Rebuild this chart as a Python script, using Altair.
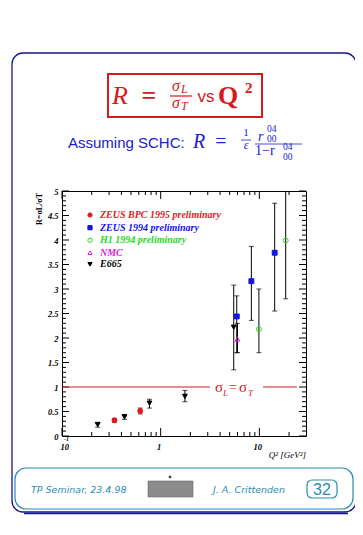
import altair as alt
import pandas as pd

# ---------------- data ----------------
zeus_bpc_q2 = [0.34, 0.62]
zeus_bpc_R = [0.32, 0.51]
zeus_bpc_lo = [0.28, 0.45]
zeus_bpc_hi = [0.36, 0.57]

zeus94_q2 = [5.9, 8.3, 14.3]
zeus94_R = [2.44, 3.16, 3.74]
zeus94_lo = [1.70, 2.36, 2.55]
zeus94_hi = [2.86, 3.87, 4.75]

h1_q2 = [9.9, 18.5]
h1_R = [2.18, 3.99]
h1_lo = [1.70, 2.80]
h1_hi = [3.00, 5.00]

nmc_q2 = [6.0]
nmc_R = [1.98]
nmc_lo = [1.70]
nmc_hi = [2.30]

e665_q2 = [0.23, 0.43, 0.77, 1.76, 5.5]
e665_R = [0.23, 0.39, 0.67, 0.81, 2.22]
e665_lo = [0.18, 0.34, 0.57, 0.70, 1.35]
e665_hi = [0.28, 0.44, 0.75, 0.93, 3.08]

series_names = ["ZEUS BPC 1995 preliminary", "ZEUS 1994 preliminary",
                "H1 1994 preliminary", "NMC", "E665"]
series_colors = ["#e8141e", "#1414e6", "#22dd22", "#dd22dd", "#000000"]
series_fills = ["#e8141e", "#1414e6", "transparent", "transparent", "#000000"]
series_shapes = ["circle", "square", "circle", "triangle-up", "triangle-down"]

# reference line R = 1 (two pieces around its label)
ref_from = [0.1, 10.9]
ref_to = [3.16, 24.0]
ref_R = [1.0, 1.0]

y_major = [0, 0.5, 1, 1.5, 2, 2.5, 3, 3.5, 4, 4.5, 5]
y_minor = [0.1, 0.2, 0.3, 0.4, 0.6, 0.7, 0.8, 0.9, 1.1, 1.2, 1.3, 1.4, 1.6, 1.7, 1.8, 1.9,
           2.1, 2.2, 2.3, 2.4, 2.6, 2.7, 2.8, 2.9, 3.1, 3.2, 3.3, 3.4, 3.6, 3.7, 3.8, 3.9,
           4.1, 4.2, 4.3, 4.4, 4.6, 4.7, 4.8, 4.9]
x_major = [0.1, 1, 10]
x_minor = [0.2, 0.3, 0.4, 0.5, 0.6, 0.7, 0.8, 0.9, 2, 3, 4, 5, 6, 7, 8, 9, 20]

# ---------------- tables ----------------
rows = []
for name, q, r, lo, hi in [
    (series_names[0], zeus_bpc_q2, zeus_bpc_R, zeus_bpc_lo, zeus_bpc_hi),
    (series_names[1], zeus94_q2, zeus94_R, zeus94_lo, zeus94_hi),
    (series_names[2], h1_q2, h1_R, h1_lo, h1_hi),
    (series_names[3], nmc_q2, nmc_R, nmc_lo, nmc_hi),
    (series_names[4], e665_q2, e665_R, e665_lo, e665_hi),
]:
    for a, b, c, d in zip(q, r, lo, hi):
        rows.append({"series": name, "q2": a, "R": b, "lo": c, "hi": d})
df = pd.DataFrame(rows)
ref_df = pd.DataFrame({"a": ref_from, "b": ref_to, "R": ref_R})
one = pd.DataFrame({"k": [0]})

W, H = 244, 245
SERIF = "Liberation Serif"
SANS = "Liberation Sans"

XS = alt.Scale(type="log", domain=[0.1, 29.7], nice=False)
YS = alt.Scale(domain=[0, 5], nice=False, zero=False)
XA = alt.Axis(values=x_major, grid=False, ticks=False, domain=False, title=None,
              labelExpr="datum.value < 0.5 ? '10' : (datum.value < 5 ? '1' : '10')",
              labelFont=SERIF, labelFontStyle="italic", labelFontWeight="bold",
              labelFontSize=8.5, labelPadding=6, labelOffset=-2, labelColor="black")
YA = alt.Axis(values=y_major, grid=False, ticks=False, domain=False, title=None,
              format="~g", labelFont=SERIF, labelFontStyle="italic",
              labelFontWeight="bold", labelFontSize=8.5, labelPadding=4,
              labelColor="black")


def X(field):
    return alt.X(field, type="quantitative", scale=XS, axis=XA)


def Y(field):
    return alt.Y(field, type="quantitative", scale=YS, axis=YA)


def txt(s, x, y, size, color, font=SERIF, style="normal", weight="normal",
        align="left", baseline="alphabetic", angle=0):
    return alt.Chart(one).mark_text(
        text=s, fontSize=size, color=color, font=font, fontStyle=style,
        fontWeight=weight, align=align, baseline=baseline, angle=angle
    ).encode(x=alt.value(x), y=alt.value(y))


def box(x1, y1, x2, y2, color, width=1.0, radius=0, fill="transparent", opacity=1.0):
    return alt.Chart(one).mark_rect(
        fill=fill, fillOpacity=opacity, stroke=color, strokeWidth=width,
        cornerRadius=radius
    ).encode(x=alt.value(x1), x2=alt.value(x2), y=alt.value(y1), y2=alt.value(y2))


def line(x1, y1, x2, y2, color, width=1.0):
    return alt.Chart(one).mark_rule(color=color, strokeWidth=width).encode(
        x=alt.value(x1), x2=alt.value(x2), y=alt.value(y1), y2=alt.value(y2))


RED = "#d41a1a"
BLUE = "#2020cc"
NAVY = "#16168a"
TEAL = "#2a8db5"
FOOT = "DejaVu Sans"

layers = []

# ---- page decorations ----
layers.append(box(-50, -138, 294, 321, NAVY, 1.3, 11))
layers.append(line(295.5, -126, 295.5, 312, NAVY, 1.3))
layers.append(line(-38, 322.5, 286, 322.5, NAVY, 1.3))
layers.append(box(-47, 277, 291, 318, TEAL, 1.2, 11))
layers.append(box(245, 289, 275, 307, TEAL, 1.2, 5))
layers.append(txt("32", 260, 304, 16, TEAL, font=SANS, align="center"))
layers.append(txt("TP Seminar, 23.4.98", -31, 302, 9.5, TEAL, font=FOOT, style="italic"))
layers.append(txt("J. A. Crittenden", 151, 302, 9.5, TEAL, font=FOOT, style="italic"))
layers.append(box(86, 290, 131, 306, "#6a6a6a", 0.6, 0, fill="#8c8c8c", opacity=1.0))
layers.append(box(107, 285, 109, 287, "#444444", 0.5, 0, fill="#444444"))

# ---- title box ----
layers.append(box(46, -117, 200, -74, RED, 2.0, 0))
layers.append(txt("R", 50, -87, 26, RED, style="italic"))
layers.append(txt("=", 87, -87, 26, RED, align="center", weight="bold"))
layers.append(txt("σ", 110, -100, 16, RED, style="italic"))
layers.append(txt("L", 119, -98.5, 12, RED, style="italic"))
layers.append(line(108, -95, 130, -95, RED, 1.2))
layers.append(txt("σ", 110, -83, 16, RED, style="italic"))
layers.append(txt("T", 119, -81, 12, RED, style="italic"))
layers.append(txt("vs", 144, -89, 17, RED, font=SANS, align="center"))
layers.append(txt("Q", 156, -87, 26, RED, weight="bold"))
layers.append(txt("2", 183, -98, 15, RED, weight="bold"))

# ---- subtitle ----
layers.append(txt("Assuming SCHC:", 6, -43, 15, BLUE, font=SANS))
layers.append(txt("R", 131, -43, 20, BLUE, style="italic"))
layers.append(txt("=", 159, -43, 20, BLUE, align="center"))
layers.append(txt("1", 184, -55, 11, BLUE, align="center"))
layers.append(line(179, -51, 189, -51, BLUE, 0.8))
layers.append(txt("ε", 184, -42, 12, BLUE, style="italic", align="center"))
layers.append(txt("r", 196, -50, 14, BLUE, style="italic"))
layers.append(txt("04", 205, -59.5, 9.5, BLUE))
layers.append(txt("00", 205, -49.5, 9.5, BLUE))
layers.append(line(193, -47, 240, -47, BLUE, 0.8))
layers.append(txt("1−r", 193, -36, 14, BLUE))
layers.append(txt("04", 221, -41.5, 9.5, BLUE))
layers.append(txt("00", 221, -31.5, 9.5, BLUE))

# ---- ticks (inside the frame, all four sides) ----
def yticks(vals, ln):
    d = pd.DataFrame({"v": vals})
    left = alt.Chart(d).mark_rule(color="black", strokeWidth=1).encode(
        y=Y("v"), x=alt.value(0), x2=alt.value(ln))
    right = alt.Chart(d).mark_rule(color="black", strokeWidth=1).encode(
        y=Y("v"), x=alt.value(W), x2=alt.value(W - ln))
    return [left, right]


def xticks(vals, ln):
    d = pd.DataFrame({"v": vals})
    bottom = alt.Chart(d).mark_rule(color="black", strokeWidth=1).encode(
        x=X("v"), y=alt.value(H), y2=alt.value(H - ln))
    top = alt.Chart(d).mark_rule(color="black", strokeWidth=1).encode(
        x=X("v"), y=alt.value(0), y2=alt.value(ln))
    return [bottom, top]


layers += yticks(y_major, 7) + yticks(y_minor, 4)
layers += xticks(x_major, 8) + xticks(x_minor, 4)

# ---- reference line and label ----
layers.append(alt.Chart(ref_df).mark_rule(color=RED, strokeWidth=1).encode(
    x=X("a"), x2="b", y=Y("R")))
layers.append(txt("σ", 153, 201, 15, RED))
layers.append(txt("L", 161, 205, 9, RED, style="italic"))
layers.append(txt("=", 171, 201, 14, RED, align="center"))
layers.append(txt("σ", 177, 201, 15, RED))
layers.append(txt("T", 186, 205, 9, RED, style="italic"))

# ---- error bars ----
layers.append(alt.Chart(df).mark_rule(color="black", strokeWidth=1, clip=True).encode(
    x=X("q2"), y=Y("lo"), y2="hi"))
layers.append(alt.Chart(df).mark_tick(color="black", orient="horizontal", size=5,
                                      thickness=1, clip=True).encode(x=X("q2"), y=Y("lo")))
layers.append(alt.Chart(df).mark_tick(color="black", orient="horizontal", size=5,
                                      thickness=1, clip=True).encode(x=X("q2"), y=Y("hi")))

# ---- points ----
layers.append(alt.Chart(df).mark_point(size=24, strokeWidth=1, opacity=1,
                                       fillOpacity=1).encode(
    x=X("q2"), y=Y("R"),
    shape=alt.Shape("series:N", scale=alt.Scale(domain=series_names, range=series_shapes),
                    legend=None),
    stroke=alt.Stroke("series:N", scale=alt.Scale(domain=series_names, range=series_colors),
                      legend=None),
    fill=alt.Fill("series:N", scale=alt.Scale(domain=series_names, range=series_fills),
                  legend=None),
))

# ---- legend (drawn by hand, coloured labels) ----
leg_y = [24, 36.7, 49.3, 61.7, 73.3]
for i, name in enumerate(series_names):
    layers.append(alt.Chart(one).mark_point(
        shape=series_shapes[i], size=18, stroke=series_colors[i], fill=series_fills[i],
        strokeWidth=1, opacity=1, fillOpacity=1
    ).encode(x=alt.value(28), y=alt.value(leg_y[i])))
    layers.append(txt(name, 38, leg_y[i], 10, series_colors[i], style="italic",
                      weight="bold", baseline="middle"))

# ---- axis titles ----
layers.append(txt("R=σL/σT", -22, 2, 8, "black", weight="bold", align="right",
                  baseline="middle", angle=270))
layers.append(txt("Q² [GeV²]", 244, 267, 9, "black", style="italic", align="right"))
layers.append(txt("-1", 2, 250, 6, "black", style="italic", weight="bold"))

chart = alt.layer(*layers).properties(
    width=W, height=H,
    autosize=alt.AutoSizeParams(type="none"),
    padding={"left": 54, "top": 183, "right": 49, "bottom": 91},
    background="white",
).configure_view(stroke="black", strokeWidth=1)

chart.save("out.html", embed_options={"renderer": "svg", "actions": False})
